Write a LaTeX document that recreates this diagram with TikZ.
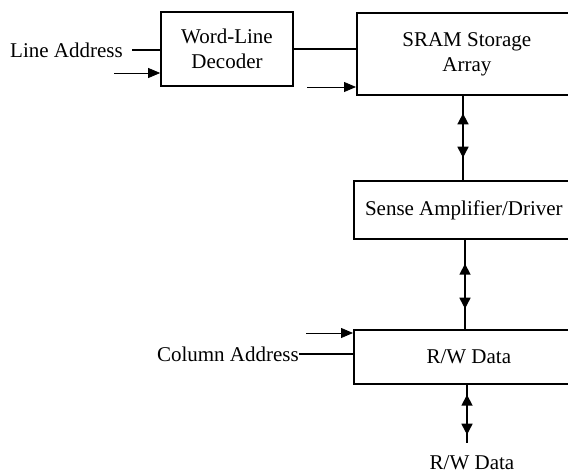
\documentclass[tikz,border=0pt]{standalone}
\usepackage{fontspec}
\setmainfont{Liberation Serif}
\usetikzlibrary{arrows.meta,decorations.markings}
\tikzset{
  txt/.style={font=\fontsize{21}{25}\selectfont},
  blk/.style={txt, draw, line width=1.7pt, inner sep=0pt, align=center},
  lbl/.style={txt, inner sep=0pt},
  wire/.style={line width=1.7pt},
  inarrow/.style={line width=0.8pt, -{Triangle[length=12pt,width=10pt]}},
  bidir/.style 2 args={wire, postaction={decorate}, decoration={markings,
      mark=at position #1 with {\arrowreversed{Triangle[length=11pt,width=11pt]}},
      mark=at position #2 with {\arrow{Triangle[length=11pt,width=11pt]}}}}
}
\begin{document}
\begin{tikzpicture}[x=1pt,y=-1pt]
\useasboundingbox (0,0) rectangle (568,474);
\clip (0,0) rectangle (568,474);
% blocks
\node[blk, minimum width=132pt, minimum height=74pt] (wld) at (227,49) {Word-Line\\Decoder};
\node[blk, anchor=north west, minimum width=220pt, minimum height=82pt] (sram) at (356,12) {SRAM Storage\\Array};
\node[blk, anchor=north west, minimum width=220pt, minimum height=58pt] (sense) at (353,180) {Sense Amplifier/Driver};
\node[blk, anchor=north west, minimum width=230pt, minimum height=54pt] (rw) at (353,329) {R/W Data};
% labels
\node[lbl, anchor=east] (la) at (123,50) {Line Address};
\node[lbl, anchor=east] (ca) at (299,354) {Column Address};
\node[lbl] (rwout) at (472,463) {R/W Data};
% coordinates
\coordinate (laS) at (132,50);
\coordinate (a1) at (114,73);
\coordinate (a2) at (307,87);
\coordinate (a3) at (306,333);
\coordinate (v1) at (463,0);
\coordinate (v2) at (465,0);
\coordinate (v3) at (467,0);
\coordinate (rwend) at (467,443);
% connectors
\draw[wire] (laS) -- (laS -| wld.west);
\draw[wire] (wld.east) -- (wld.east -| sram.west);
\draw[inarrow] (a1) -- (a1 -| wld.west);
\draw[inarrow] (a2) -- (a2 -| sram.west);
\draw[inarrow] (a3) -- (a3 -| rw.west);
\draw[wire] (ca.east) -- (ca.east -| rw.west);
\draw[bidir={17.7pt}{62pt}] (v1 |- sram.south) -- (v1 |- sense.north);
\draw[bidir={24pt}{69pt}] (v2 |- sense.south) -- (v2 |- rw.north);
\draw[bidir={10pt}{50pt}] (v3 |- rw.south) -- (rwend);
\end{tikzpicture}
\end{document}
